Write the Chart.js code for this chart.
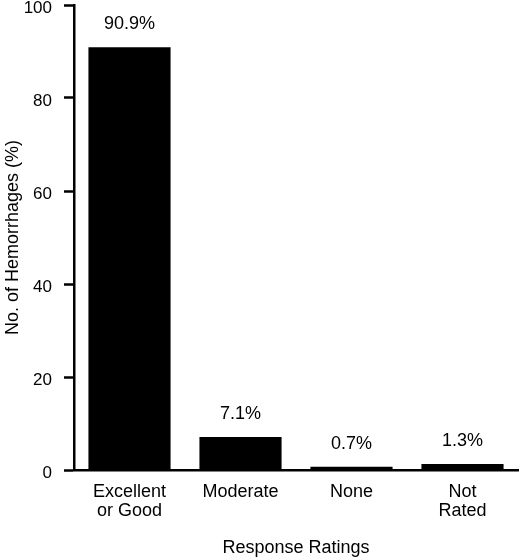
<!DOCTYPE html>
<html>
<head>
<meta charset="utf-8">
<script src="https://cdn.jsdelivr.net/npm/chart.js@4/dist/chart.umd.min.js"></script>
<style>
  html, body { margin: 0; padding: 0; background: #fff; }
</style>
</head>
<body>
<canvas id="chart" width="520" height="560"></canvas>
<script>
/*----------------------------------------------------------------------------*/
/* Data                                                                       */
/*----------------------------------------------------------------------------*/
const categories = [["Excellent", "or Good"], "Moderate", "None", ["Not", "Rated"]];
const percents = [90.9, 7.1, 0.7, 1.3];
const value_labels = ["90.9%", "7.1%", "0.7%", "1.3%"];
const y_ticks = [0, 20, 40, 60, 80, 100];

const font_family = "'Liberation Sans', Arial, Helvetica, sans-serif";

/*----------------------------------------------------------------------------*/
/* Value labels above the bars                                                */
/*----------------------------------------------------------------------------*/
const bar_labels_plugin = {
    id: "bar_labels",
    afterDatasetsDraw(chart) {
        const ctx = chart.ctx;
        const meta = chart.getDatasetMeta(0);
        ctx.save();
        ctx.fillStyle = "#000";
        ctx.font = "18px " + font_family;
        ctx.textAlign = "center";
        ctx.textBaseline = "middle";
        meta.data.forEach(function (bar, i) {
            ctx.fillText(value_labels[i], bar.x, bar.y - 23);
        });
        ctx.restore();
    }
};

/*----------------------------------------------------------------------------*/
/* Chart                                                                      */
/*----------------------------------------------------------------------------*/
const config = {
    type: "bar",
    data: {
        labels: categories,
        datasets: [{
            data: percents,
            backgroundColor: "#000",
            borderWidth: 0,
            categoryPercentage: 1.0,
            barPercentage: 0.74
        }]
    },
    options: {
        responsive: false,
        animation: false,
        layout: { padding: { top: 5, right: 2, left: 0, bottom: 0 } },
        plugins: {
            legend: { display: false },
            tooltip: { enabled: false }
        },
        scales: {
            x: {
                grid: { display: false, drawTicks: false },
                border: { display: true, color: "#000", width: 2.5 },
                ticks: {
                    color: "#000",
                    padding: 12,
                    maxRotation: 0,
                    font: { family: font_family, size: 18, lineHeight: 1.06 }
                },
                title: {
                    display: true,
                    text: "Response Ratings",
                    color: "#000",
                    padding: { top: 0, bottom: 1 },
                    font: { family: font_family, size: 18 }
                },
                afterFit(scale) {
                    scale.height = 90;
                    scale.paddingLeft = 0;
                    scale.paddingRight = 0;
                }
            },
            y: {
                min: 0,
                max: 100,
                afterBuildTicks(scale) {
                    scale.ticks = y_ticks.map(v => ({ value: v }));
                },
                grid: {
                    drawOnChartArea: false,
                    drawTicks: true,
                    tickLength: 10,
                    tickColor: "#000",
                    tickWidth: 2.5
                },
                border: { display: true, color: "#000", width: 2.5 },
                ticks: {
                    color: "#000",
                    padding: 12,
                    labelOffset: 3,
                    font: { family: font_family, size: 17 }
                },
                title: {
                    display: true,
                    text: "No. of Hemorrhages (%)",
                    color: "#000",
                    padding: { top: 2, bottom: 0 },
                    font: { family: font_family, size: 18 }
                },
                afterFit(scale) {
                    scale.width = 74;
                    scale.paddingTop = 0;
                    scale.paddingBottom = 0;
                }
            }
        }
    },
    plugins: [bar_labels_plugin]
};

const ctx = document.getElementById("chart").getContext("2d");
const response_chart = new Chart(ctx, config);
</script>
</body>
</html>
